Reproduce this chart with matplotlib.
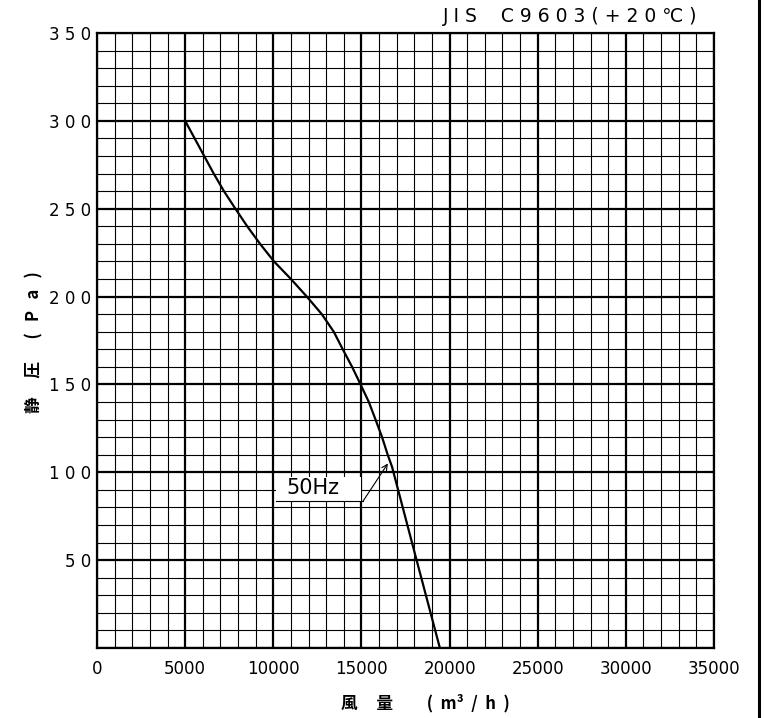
import numpy as np
import matplotlib.pyplot as plt
from matplotlib.lines import Line2D
from matplotlib.patches import Rectangle

# fan curve 50Hz (air volume m3/h, static pressure Pa)
flow = [5000, 5540, 6080, 6620, 7200, 7850, 8520, 9250, 10040, 11000, 11900,
        12750, 13430, 13940, 14470, 14950, 15420, 15800, 16170, 16490, 16740,
        18130, 19450]
pressure = [300, 290, 280, 270, 260, 250, 240, 230, 220, 210, 200,
            190, 180, 170, 160, 150, 140, 130, 120, 110, 103,
            50, 0]

xticks = [0, 5000, 10000, 15000, 20000, 25000, 30000, 35000]
yticks = [50, 100, 150, 200, 250, 300, 350]

fig = plt.figure(figsize=(7.64, 7.18), dpi=100)
ax = fig.add_axes([97/764, 1-648/718, 617/764, 615/718])

# grid paper
for gx in range(0, 35001, 1000):
    lw = 1.6 if gx % 5000 == 0 else 0.8
    ax.axvline(gx, color='black', lw=lw, zorder=1)
for gy in range(0, 351, 10):
    lw = 1.6 if gy % 50 == 0 else 0.8
    ax.axhline(gy, color='black', lw=lw, zorder=1)

ax.plot(flow, pressure, color='black', lw=1.6, zorder=3)

ax.set_xlim(0, 35000)
ax.set_ylim(0, 350)
for s in ax.spines.values():
    s.set_linewidth(1.6)

ax.set_xticks(xticks)
ax.set_xticklabels([str(t) for t in xticks], fontsize=12)
ax.set_yticks(yticks)
ax.set_yticklabels([' '.join(str(t)) for t in yticks], fontsize=12)
ax.tick_params(length=0)
ax.tick_params(axis='x', pad=9)
ax.tick_params(axis='y', pad=4)

# 50Hz label with leader
ax.add_patch(Rectangle((10150, 83.7), 4850, 13.8, facecolor='white',
                       edgecolor='none', zorder=2))
ax.text(10750, 85.3, '50Hz', fontsize=15, ha='left', va='bottom', zorder=4)
ax.plot([10150, 15100], [83.7, 83.7], color='black', lw=0.8, zorder=4)
ax.annotate('', xy=(16500, 105), xytext=(15100, 83.7),
            arrowprops=dict(arrowstyle='->', color='black', lw=0.8,
                            shrinkA=0, shrinkB=0), zorder=4)

fig.text(697/764, 1-17/718, 'J I S    C 9 6 0 3 ( + 2 0 \u2103 )', fontsize=13.5,
         ha='right', va='center', family=['DejaVu Sans'])

cjk = ['Noto Sans CJK JP', 'DejaVu Sans']
fig.text(34/764, 1-342/718, '静     圧      (   P   a   )', rotation=90,
         fontsize=12, ha='center', va='center', family=cjk, fontweight='bold')
fig.text(425/764, 1-703/718, '風     量         (  m\u00b3  /  h  )', fontsize=12,
         ha='center', va='center', family=cjk, fontweight='bold')

fig.add_artist(Line2D([759/764, 759/764], [0, 1], color='black', lw=2.2))

fig.savefig('out.png', dpi=100)
